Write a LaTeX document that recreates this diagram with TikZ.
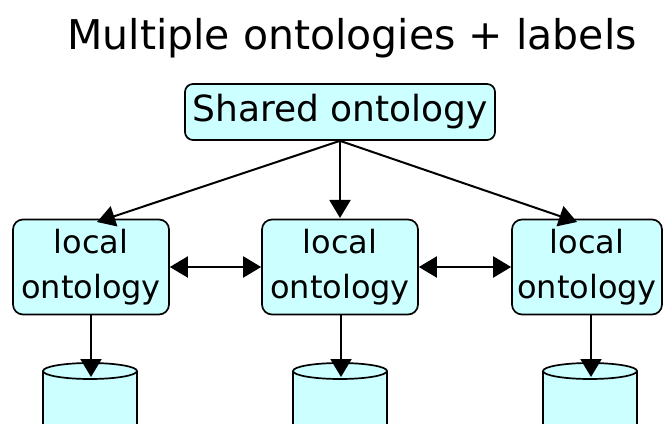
\documentclass[tikz,border=0pt]{standalone}
\usepackage{fontspec}
\setmainfont{DejaVu Sans}
\usetikzlibrary{arrows.meta}
\definecolor{boxfill}{HTML}{CCFFFF}
\begin{document}
\begin{tikzpicture}[x=1pt,y=1pt,
  box/.style={draw=black, line width=1.7pt, fill=boxfill, rounded corners=10pt, inner sep=0pt, align=center},
  localbox/.style={box, minimum width=156pt, minimum height=95pt, font=\fontsize{32}{45}\selectfont},
  conn/.style={line width=2pt, -{Triangle[length=18pt,width=21pt]}},
  dconn/.style={line width=2pt, {Triangle[length=18pt,width=21pt]}-{Triangle[length=18pt,width=21pt]}},
  cyl/.style={draw=black, line width=1.7pt, fill=boxfill}]
\useasboundingbox (0,0) rectangle (663,423);
\node[inner sep=0pt, font=\fontsize{41}{48}\selectfont] (title) at (352,385) {Multiple ontologies + labels};
\node[box, minimum width=310pt, minimum height=56pt, rounded corners=8pt, font=\fontsize{36}{42}\selectfont] (shared) at (340,311) {Shared ontology};
\node[localbox] (l1) at (91,156) {local\\ontology};
\node[localbox] (l2) at (340,156) {local\\ontology};
\node[localbox, minimum width=150pt] (l3) at (587,156) {local\\ontology};
% databases
\foreach \cx/\nm in {90/d1,340/d2,590/d3}{
  \filldraw[cyl] (\cx+47,52) -- (\cx+47,-5) -- (\cx-47,-5) -- (\cx-47,52) arc[start angle=180, end angle=0, x radius=47pt, y radius=8pt] -- cycle;
  \draw[line width=1.7pt] (\cx-47,52) arc[start angle=180, end angle=360, x radius=47pt, y radius=8pt];
  \coordinate (\nm) at (\cx+1,46);
}
\coordinate (t1) at (97,201);
\coordinate (t2) at (340,205);
\coordinate (t3) at (577,201);
\draw[conn] (shared.south) -- (t1);
\draw[conn] (shared.south) -- (t2);
\draw[conn] (shared.south) -- (t3);
\draw[dconn] (l1.east) -- (l2.west);
\draw[dconn] (l2.east) -- (l3.west);
\draw[conn] (l1.south -| d1) -- (d1);
\draw[conn] (l2.south -| d2) -- (d2);
\draw[conn] (l3.south -| d3) -- (d3);
\end{tikzpicture}
\end{document}
